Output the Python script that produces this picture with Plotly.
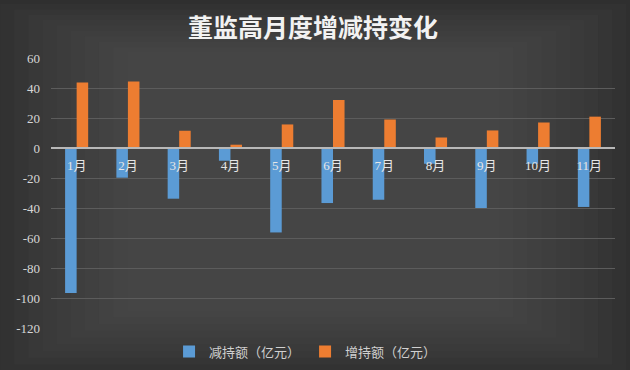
import plotly.graph_objects as go

months = ["1月", "2月", "3月", "4月", "5月", "6月", "7月", "8月", "9月", "10月", "11月"]
decrease = [-96.7, -19.8, -33.8, -8.5, -56.3, -36.7, -34.5, -10.5, -40.0, -10.5, -39.3]
increase = [43.7, 44.4, 11.5, 2.2, 15.7, 32.0, 19.0, 7.0, 11.7, 17.0, 20.9]
y_ticks = [60, 40, 20, 0, -20, -40, -60, -80, -100, -120]

serif = "Liberation Serif, Noto Sans CJK SC, serif"
cjk = "Noto Sans CJK SC, sans-serif"

fig = go.Figure()
fig.add_trace(go.Bar(x=months, y=decrease, name="减持额（亿元）",
                     marker=dict(color="#5b9bd5", line=dict(width=0))))
fig.add_trace(go.Bar(x=months, y=increase, name="增持额（亿元）",
                     marker=dict(color="#ed7d31", line=dict(width=0))))

# vignette-like background: nested translucent rectangles
shapes = []
n = 10
for i in range(n):
    f = i / n
    shapes.append(dict(type="rect", xref="paper", yref="paper", layer="below",
                       x0=-0.09 + f * 0.25, x1=1.02 - f * 0.25,
                       y0=-0.16 + f * 0.25, y1=1.2 - f * 0.2,
                       fillcolor="rgba(90,90,90,0.09)", line=dict(width=0)))
fig.update_layout(
    width=630, height=370,
    margin=dict(l=51, r=15, t=58, b=42, autoexpand=False),
    paper_bgcolor="#2f2f2f",
    plot_bgcolor="rgba(0,0,0,0)",
    barmode="group", bargap=0.55, bargroupgap=0,
    shapes=shapes,
    title=dict(text="<b>董监高月度增减持变化</b>", x=0.497, xref="container",
               y=0.925, yref="container", xanchor="center", yanchor="middle",
               font=dict(family=cjk, size=25, color="#f2f2f2")),
    legend=dict(orientation="h", x=0.485, xref="container", xanchor="center",
                y=0.05, yref="container", yanchor="middle",
                font=dict(family=cjk, size=13, color="#d0d0d0"),
                itemwidth=30, tracegroupgap=0, bgcolor="rgba(0,0,0,0)",
                traceorder="normal"),
    showlegend=True,
)
fig.update_xaxes(anchor="free", position=120 / 180, showline=True,
                 linecolor="#b8b8b8", linewidth=1.5, showgrid=False,
                 ticks="outside", ticklen=6, tickcolor="rgba(0,0,0,0)",
                 tickfont=dict(family=serif, size=13, color="#e6e6e6"))
fig.update_yaxes(range=[-120, 60], tickvals=y_ticks, ticktext=[str(v) for v in y_ticks],
                 showgrid=True, gridcolor="#5c5c5c", gridwidth=1, zeroline=False,
                 showline=False, ticks="", ticklabelstandoff=10,
                 tickfont=dict(family=serif, size=13, color="#d6d6d6"))

fig.write_html("out.html", config={"displayModeBar": False},
               post_script="document.body.style.margin='0';document.body.style.background='#2f2f2f';")
